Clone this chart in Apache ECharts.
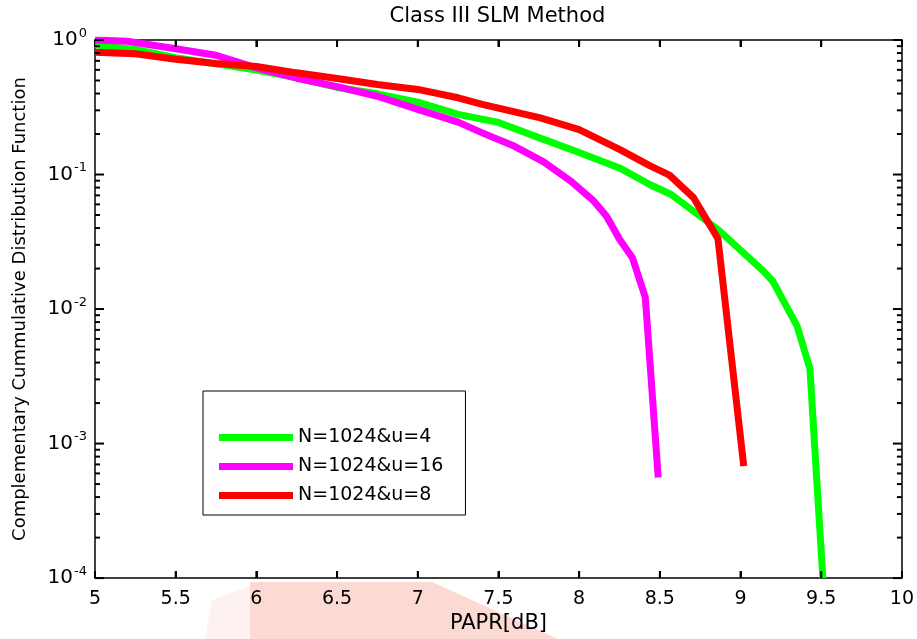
<!DOCTYPE html>
<html>
<head>
<meta charset="utf-8">
<script src="https://cdn.jsdelivr.net/npm/echarts@6/dist/echarts.min.js"></script>
<style>
  html, body { margin: 0; padding: 0; background: #fff; }
  #chart { width: 917px; height: 639px; }
</style>
</head>
<body>
<div id="chart"></div>
<script>
// PAPR [dB] vs CCDF
var xU4 = [5.0, 5.25, 5.5, 5.75, 6.0, 6.25, 6.5, 6.75, 7.0, 7.25, 7.5, 7.75, 8.0, 8.25, 8.44, 8.57, 8.86, 9.14, 9.2, 9.35, 9.43, 9.51];
var yU4 = [0.92, 0.85, 0.74, 0.665, 0.597, 0.524, 0.444, 0.398, 0.345, 0.28, 0.244, 0.188, 0.146, 0.112, 0.084, 0.071, 0.039, 0.0192, 0.0161, 0.0075, 0.0036, 0.0001];

var xU16 = [5.0, 5.2, 5.5, 5.75, 6.0, 6.25, 6.5, 6.75, 7.0, 7.25, 7.4, 7.6, 7.78, 7.95, 8.09, 8.17, 8.25, 8.33, 8.41, 8.49];
var yU16 = [1.0, 0.98, 0.86, 0.77, 0.62, 0.52, 0.45, 0.382, 0.305, 0.245, 0.204, 0.162, 0.124, 0.089, 0.0636, 0.049, 0.033, 0.0241, 0.0122, 0.00056];

var xU8 = [5.0, 5.25, 5.5, 5.75, 6.0, 6.25, 6.5, 6.75, 7.0, 7.25, 7.4, 7.76, 8.0, 8.25, 8.44, 8.56, 8.71, 8.86, 9.02];
var yU8 = [0.81, 0.79, 0.72, 0.67, 0.635, 0.57, 0.518, 0.467, 0.429, 0.372, 0.332, 0.264, 0.216, 0.154, 0.116, 0.099, 0.067, 0.0334, 0.00068];

var seriesNames = ['N=1024&u=4', 'N=1024&u=16', 'N=1024&u=8'];
var seriesColors = ['#00ff00', '#ff00ff', '#ff0000'];

// tick positions (MATLAB style, drawn inward on all four sides)
var xTicks = [5.5, 6, 6.5, 7, 7.5, 8, 8.5, 9, 9.5];
var yDecades = [1e-4, 1e-3, 1e-2, 1e-1, 1];
var yMinorSteps = [2, 3, 4, 5, 6, 7, 8, 9];

var FONT = 'DejaVu Sans';

function zip(xs, ys) {
    return xs.map(function (x, i) { return [x, ys[i]]; });
}

function expLabel(v) {
    var e = Math.round(Math.log(v) / Math.LN10);
    return '{b|10}{s|' + e + '}';
}

var chart = echarts.init(document.getElementById('chart'), null, {renderer: 'canvas'});

function boxAxis(extra) {
    return Object.assign({
        axisLine: {show: true, onZero: false, lineStyle: {color: '#000', width: 1.5}},
        axisTick: {show: false},
        splitLine: {show: false}
    }, extra);
}

var xTickStyle = {show: true, inside: true, length: 7, lineStyle: {color: '#000', width: 2}};

var option = {
    backgroundColor: '#fff',
    animation: false,
    grid: {left: 95, right: 15, top: 40, bottom: 60, containLabel: false},
    graphic: {elements: [
        // faint watermark behind the x labels
        {id: 'wm1', type: 'polygon', z: -10, silent: true,
         shape: {points: [[212, 600], [250, 586], [250, 639], [205, 639]]},
         style: {fill: '#fdf2f0'}},
        {id: 'wm2', type: 'polygon', z: -10, silent: true,
         shape: {points: [[250, 582], [432, 582], [558, 639], [250, 639]]},
         style: {fill: '#fcdad4'}}
    ]},
    legend: {
        orient: 'vertical',
        left: 203,
        top: 391,
        padding: [37, 22, 10, 16],
        itemGap: 10,
        itemWidth: 74,
        itemHeight: 7,
        icon: 'rect',
        borderColor: '#000',
        borderWidth: 1,
        backgroundColor: '#fff',
        textStyle: {fontFamily: FONT, fontSize: 19, color: '#000'},
        data: seriesNames
    },
    xAxis: [
        boxAxis({
            type: 'value', min: 5, max: 10, interval: 0.5,
            position: 'bottom',
            name: 'PAPR[dB]', nameLocation: 'middle', nameGap: 33,
            nameTextStyle: {fontFamily: FONT, fontSize: 21, color: '#000'},
            axisTick: xTickStyle,
            axisLabel: {fontFamily: FONT, fontSize: 19, color: '#000', margin: 11}
        }),
        boxAxis({
            type: 'value', min: 5, max: 10, interval: 0.5,
            position: 'top',
            axisTick: xTickStyle,
            axisLabel: {show: false}
        })
    ],
    yAxis: [
        boxAxis({
            type: 'log', logBase: 10, min: 1e-4, max: 1,
            position: 'left',
            name: 'Complementary Cummulative Distribution Function',
            nameLocation: 'middle', nameGap: 66, nameRotate: 90,
            nameTextStyle: {fontFamily: FONT, fontSize: 18, color: '#000'},
            axisLabel: {
                margin: 8,
                formatter: expLabel,
                rich: {
                    b: {fontFamily: FONT, fontSize: 20, color: '#000'},
                    s: {fontFamily: FONT, fontSize: 13, color: '#000', padding: [0, 0, 13, 1]}
                }
            }
        }),
        boxAxis({
            type: 'log', logBase: 10, min: 1e-4, max: 1,
            position: 'right',
            axisLabel: {show: false}
        })
    ],
    series: [
        {name: seriesNames[0], data: zip(xU4, yU4)},
        {name: seriesNames[1], data: zip(xU16, yU16)},
        {name: seriesNames[2], data: zip(xU8, yU8)}
    ].map(function (s, i) {
        return {
            name: s.name,
            type: 'line',
            xAxisIndex: 0,
            yAxisIndex: 0,
            data: s.data,
            symbol: 'none',
            clip: true,
            color: seriesColors[i],
            itemStyle: {color: seriesColors[i]},
            lineStyle: {color: seriesColors[i], width: 7},
            z: 2 + i
        };
    })
};

chart.setOption(option);

// title and inward ticks, placed through the grid's own scales
function addTicks() {
    var p0 = chart.convertToPixel({gridIndex: 0}, [5, 1e-4]);
    var p1 = chart.convertToPixel({gridIndex: 0}, [10, 1]);
    var left = p0[0], bottom = p0[1], right = p1[0], top = p1[1];
    var els = [];
    els.push({id: 'title', type: 'text', x: (left + right) / 2 - 1, y: 17, z: 50, silent: true,
              style: {text: 'Class III SLM Method', font: '21px "' + FONT + '"',
                      fill: '#000', align: 'center', verticalAlign: 'middle'}});
    var tickLine = function (id, x1, y1, x2, y2) {
        els.push({id: id, type: 'line', silent: true, z: 50,
                  shape: {x1: x1, y1: y1, x2: x2, y2: y2},
                  style: {stroke: '#000', lineWidth: 2}});
    };
    xTicks.forEach(function (v, i) {
        var px = chart.convertToPixel({gridIndex: 0}, [v, 1])[0];
        tickLine('xb' + i, px, bottom, px, bottom - 7);
        tickLine('xt' + i, px, top, px, top + 7);
    });
    yDecades.forEach(function (d, i) {
        var py = chart.convertToPixel({gridIndex: 0}, [5, d])[1];
        tickLine('yl' + i, left, py, left + 9, py);
        tickLine('yr' + i, right, py, right - 9, py);
        if (d >= 1) return;
        yMinorSteps.forEach(function (m, j) {
            var qy = chart.convertToPixel({gridIndex: 0}, [5, d * m])[1];
            tickLine('ml' + i + '_' + j, left, qy, left + 5, qy);
            tickLine('mr' + i + '_' + j, right, qy, right - 5, qy);
        });
    });
    chart.setOption({graphic: {elements: els}});
}
addTicks();
</script>
</body>
</html>
